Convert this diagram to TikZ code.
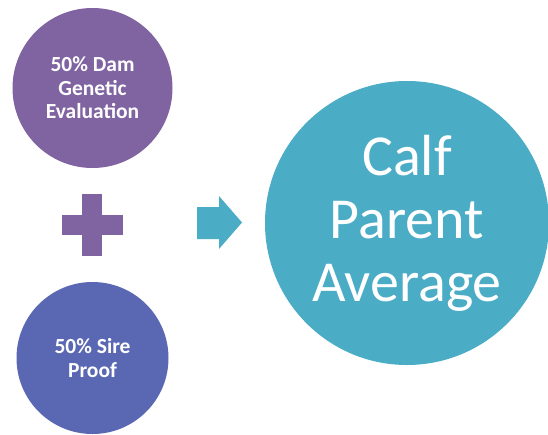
\documentclass[tikz,border=0pt]{standalone}
\usepackage{fontspec}
\setmainfont{Carlito}
\usepackage{tikz}

\definecolor{dampurple}{HTML}{8064A2}
\definecolor{sireblue}{HTML}{5A68B4}
\definecolor{calfteal}{HTML}{4BACC6}

\begin{document}
\begin{tikzpicture}
 [line cap=round,line join=round,x=1pt,y=-1pt,
 parent/.style={circle,inner sep=0pt,text=white,align=center,
   font=\fontsize{21.5}{23.5}\selectfont\bfseries},
 result/.style={circle,inner sep=0pt,text=white,align=center,
   font=\fontsize{58}{63}\selectfont}]
\useasboundingbox (0,0) rectangle (548,434);

\node[parent,fill=dampurple,minimum size=160pt] (dam) at (92.5,88) {50\% Dam\\Genetic\\Evaluation};
\node[parent,fill=sireblue,minimum size=152pt] (sire) at (92.5,358) {50\% Sire\\Proof};
\node[result,fill=calfteal,minimum size=284pt] (calf) at (407,223) {Calf\\Parent\\Average};

% plus sign
\fill [dampurple] (62,215) rectangle (123,235);
\fill [dampurple] (82,194) rectangle (102,256);

% arrow
\fill [calfteal] (197,207) -- (219,207) -- (219,196) -- (242,222.5)
  -- (219,249) -- (219,239) -- (197,239) -- cycle;

\end{tikzpicture}
\end{document}
